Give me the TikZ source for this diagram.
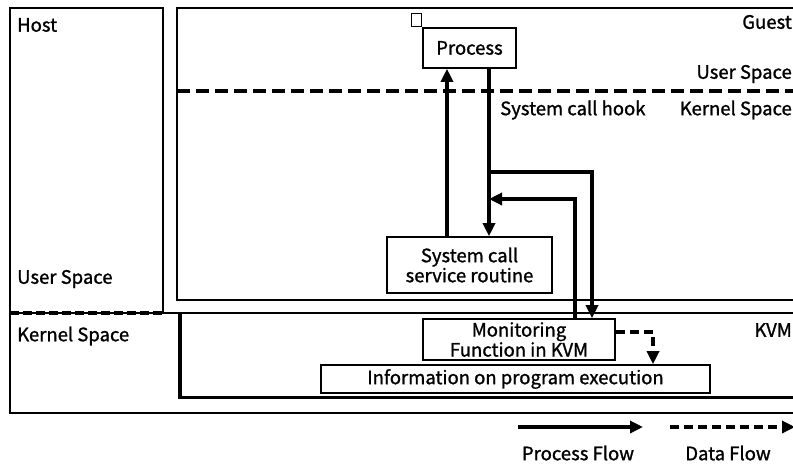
\documentclass[tikz,border=0pt]{standalone}
\usepackage{fontspec}
\setmainfont{Noto Sans CJK JP}[FakeBold=1.2,UprightFeatures={FakeBold=1.2}]
\usetikzlibrary{arrows.meta}
\begin{document}
\begin{tikzpicture}[x=1pt,y=-1pt]%
  \tikzstyle{boxn}=[rectangle,draw,line width=1.6pt,inner sep=0,align=center,
    font=\fontsize{18.5}{20}\selectfont]
  \tikzstyle{txtn}=[inner sep=0,font=\fontsize{18.5}{20}\selectfont]
  \tikzstyle{flow}=[line width=3.3pt,-{Triangle[length=13pt,width=12pt]}]
  \tikzstyle{dflow}=[flow,dash pattern=on 9pt off 5pt]
  \useasboundingbox (0,0) rectangle (793,464);
  \clip (0,0) rectangle (793,464);
  % host and guest frames
  \draw[line width=1.6pt] (10,8) rectangle (163,313);
  \draw[line width=1.6pt] (10,313) rectangle (820,413);
  \draw[line width=1.6pt] (177,8) rectangle (820,300);
  \draw[line width=3.8pt] (180,313) -- (180,397.5) -- (820,397.5);
  \draw[line width=3.3pt,dash pattern=on 9pt off 4pt] (10,313) -- (163,313);
  \draw[line width=3.8pt,dash pattern=on 13pt off 6pt] (177,91) -- (820,91);
  % labels
  \node[txtn,anchor=west](host) at (17,25) {Host};
  \node[txtn,anchor=west](hus) at (17,279) {User Space};
  \node[txtn,anchor=west](hks) at (17,336) {Kernel Space};
  \node[txtn,anchor=east](guest) at (792,22) {Guest};
  \node[txtn,anchor=east](gus) at (792,74) {User Space};
  \node[txtn,anchor=east](gks) at (792,110) {Kernel Space};
  \node[txtn,anchor=west](hook) at (500,110) {System call hook};
  \node[txtn,anchor=east](kvm) at (792,330) {KVM};
  % boxes
  \node(proc)[boxn,minimum width=93pt,minimum height=40pt] at (469.5,48) {Process};
  \node(tag)[boxn,minimum width=10pt,minimum height=13pt,anchor=south east]
    at (proc.north west) {};
  \node(sys)[boxn,minimum width=165pt,minimum height=56pt] at (469.5,265)
    {System call\\service routine};
  \node(mon)[boxn,minimum width=192pt,minimum height=41pt] at (519,339.5)
    {Monitoring\\Function in KVM};
  \node(info)[boxn,minimum width=389pt,minimum height=28pt] at (515.5,379)
    {Information on program execution};
  % flows
  \draw[flow] (sys.north -| 447,0) -- (proc.south -| 447,0);
  \draw[flow] (proc.south -| 489,0) -- (sys.north -| 489,0);
  \coordinate (tap) at (489,172);
  \coordinate (back) at (489,199);
  \draw[flow] (tap) -| (mon.north -| 592,0);
  \draw[flow] (mon.north -| 575,0) |- (back);
  \draw[dflow] (mon.east |- 0,332) -| (info.north -| 653,0);
  % legend
  \coordinate (p1) at (518,427); \coordinate (p2) at (643,427);
  \coordinate (d1) at (670,427); \coordinate (d2) at (795,427);
  \draw[flow] (p1) -- (p2);
  \draw[dflow] (d1) -- (d2);
  \node[txtn](pf) at (578,453) {Process Flow};
  \node[txtn](df) at (728,453) {Data Flow};
\end{tikzpicture}
\end{document}
